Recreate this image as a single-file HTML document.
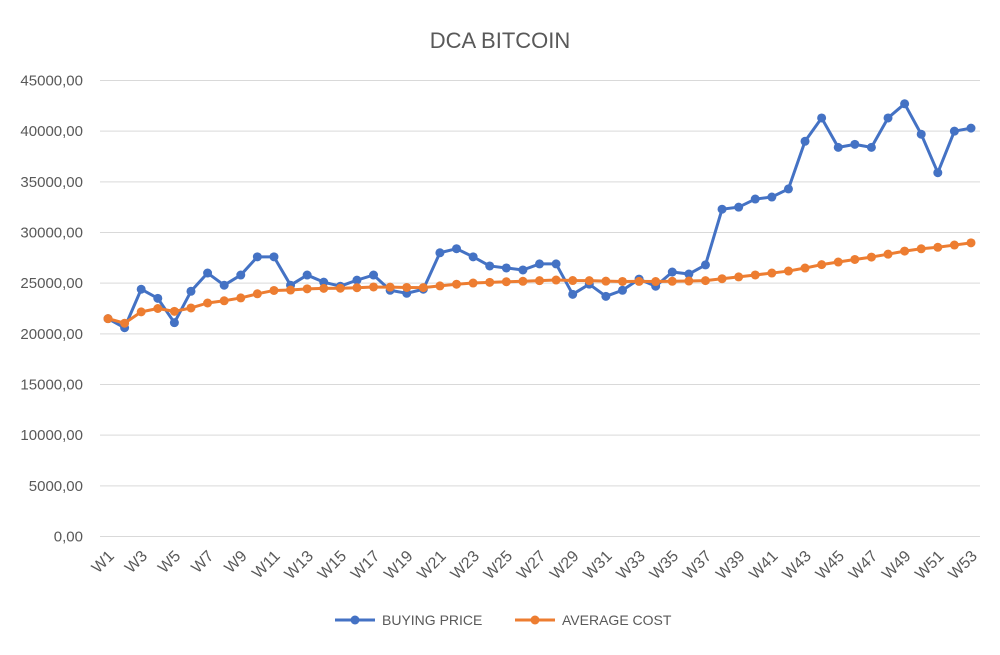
<!DOCTYPE html>
<html><head><meta charset="utf-8"><style>
html,body{margin:0;padding:0;background:#fff;}
svg text{font-family:"Liberation Sans",sans-serif;fill:#595959;}
</style></head><body>
<svg id="c" width="1000" height="650" viewBox="0 0 1000 650" xmlns="http://www.w3.org/2000/svg">
<rect width="1000" height="650" fill="#fff"/>
<text x="500" y="48" font-size="22" text-anchor="middle">DCA BITCOIN</text>
<g id="g"></g>
<line x1="335" y1="620" x2="375" y2="620" stroke="#4472C4" stroke-width="3"/>
<circle cx="355" cy="620" r="4.5" fill="#4472C4"/>
<text x="382" y="625" font-size="14">BUYING PRICE</text>
<line x1="515" y1="620" x2="555" y2="620" stroke="#ED7D31" stroke-width="3"/>
<circle cx="535" cy="620" r="4.5" fill="#ED7D31"/>
<text x="562" y="625" font-size="14">AVERAGE COST</text>
</svg>
<script>
var d=[21500,20600,24400,23500,21100,24200,26000,24800,25800,27600,27600,24800,25800,25100,24700,25300,25800,24300,24000,24400,28000,28400,27600,26700,26500,26300,26900,26900,23900,24900,23700,24300,25400,24700,26100,25900,26800,32300,32500,33300,33500,34300,39000,41300,38400,38700,38400,41300,42700,39700,35900,40000,40300];
var y0=536.5,sc=(536.5-80.5)/45000,x0=108,dx=(971-108)/52;
function Y(v){return y0-v*sc}function X(i){return x0+i*dx}
var s='';
for(var k=0;k<=9;k++){var yy=Y(k*5000);s+='<line x1="100" x2="980" y1="'+yy+'" y2="'+yy+'" stroke="#d9d9d9" stroke-width="1"/>';
s+='<text x="83" y="'+(yy+5)+'" font-size="15" text-anchor="end">'+(k*5000)+',00</text>';}
for(var i=0;i<53;i+=2){var x=X(i)+7;s+='<text transform="translate('+x+',557) rotate(-45)" font-size="16" text-anchor="end">W'+(i+1)+'</text>';}
var a=[],sum=0;for(i=0;i<53;i++){sum+=d[i];a.push(sum/(i+1));}
function ser(arr,c){var p='';for(var i=0;i<53;i++)p+=X(i)+','+Y(arr[i])+' ';var o='<polyline points="'+p+'" fill="none" stroke="'+c+'" stroke-width="3" stroke-linejoin="round"/>';
for(i=0;i<53;i++)o+='<circle cx="'+X(i)+'" cy="'+Y(arr[i])+'" r="4.5" fill="'+c+'"/>';return o;}
s+=ser(d,'#4472C4')+ser(a,'#ED7D31');
document.getElementById('g').innerHTML=s;
</script>
</body></html>
